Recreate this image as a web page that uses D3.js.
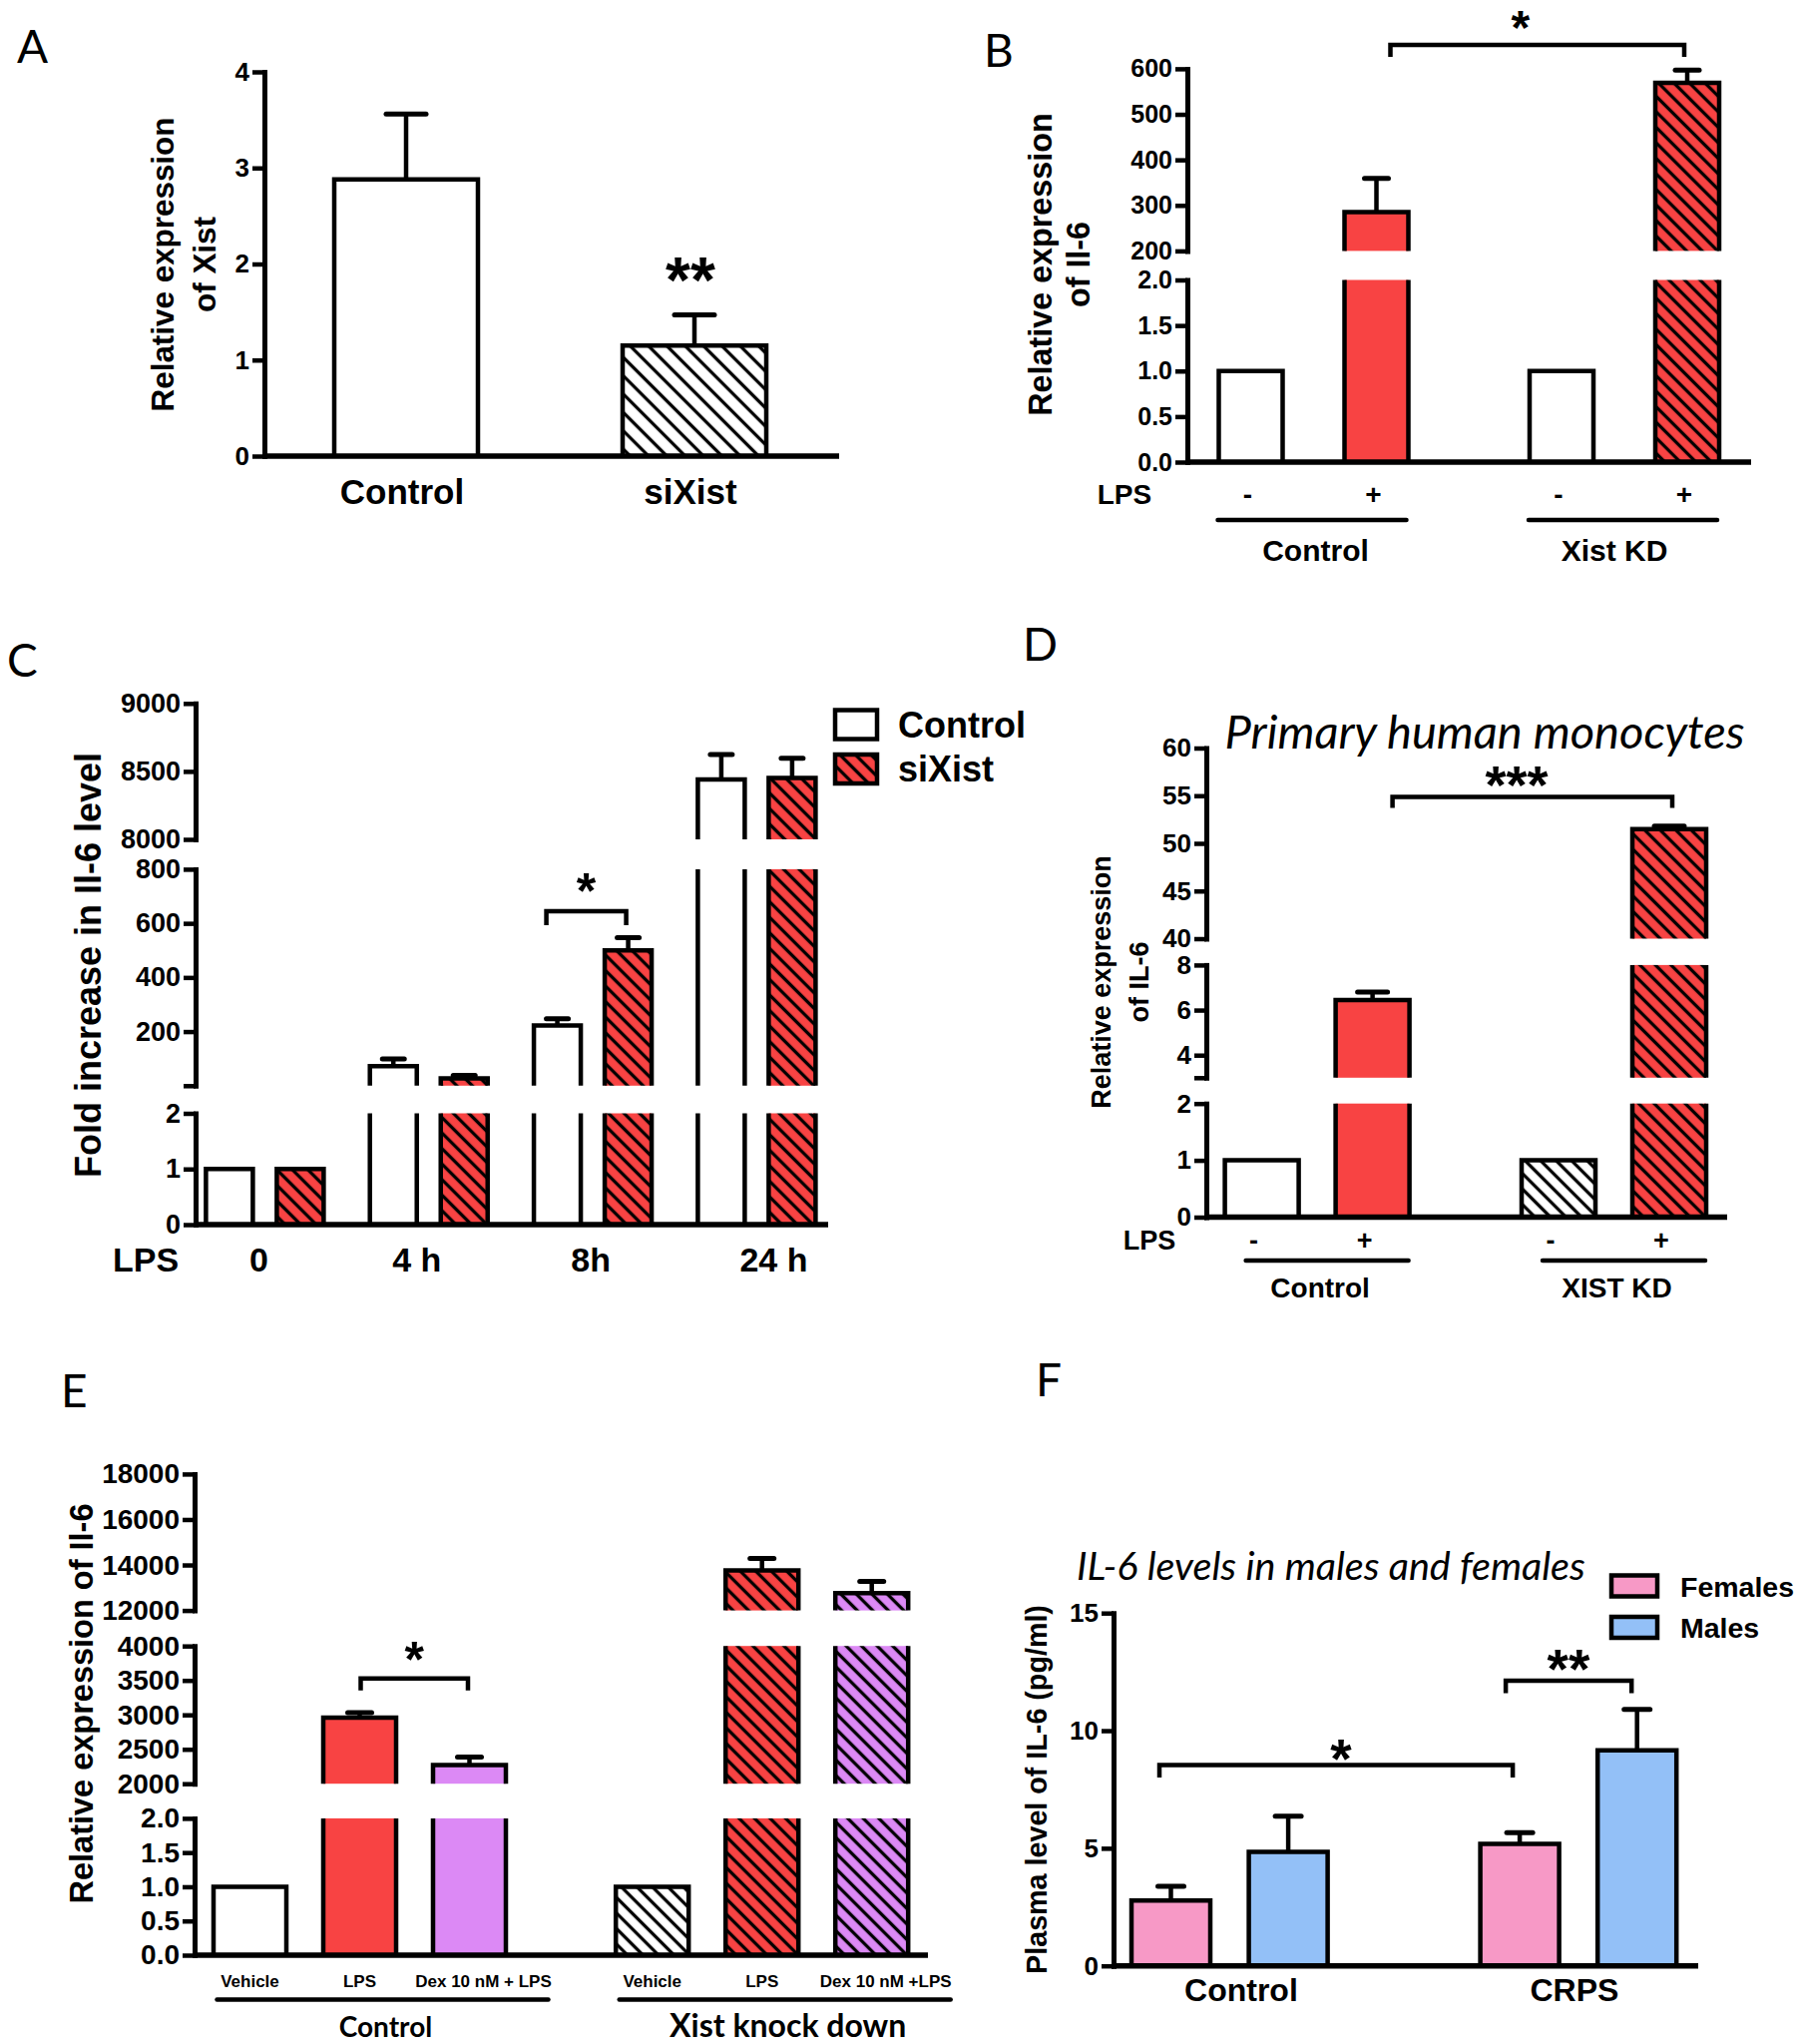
<!DOCTYPE html>
<html><head><meta charset="utf-8">
<script src="https://cdn.jsdelivr.net/npm/d3@7"></script>
<style>body{margin:0;background:#fff}</style>
</head><body>
<script>
// ================= DATA =================
// Panel A
const aCategories = ["Control", "siXist"];
const aValues = [2.88, 1.15];
const aErrors = [0.68, 0.32];
const aTicks = [0, 1, 2, 3, 4];

// Panel B
const bGroups = ["Control", "Xist KD"];
const bLPS = ["-", "+"];
const bValues = [[1, 285], [1, 569]];
const bErrors = [[0, 74], [0, 28]];
const bTicksLow = [0, 0.5, 1, 1.5, 2];
const bTicksHigh = [200, 300, 400, 500, 600];

// Panel C
const cTimes = ["0", "4 h", "8h", "24 h"];
const cSeries = ["Control", "siXist"];
const cControl = [1, 72, 222, 8440];
const cControlErr = [0, 27, 25, 185];
const cSiXist = [1, 27, 500, 8452];
const cSiXistErr = [0, 11, 47, 145];
const cTicksLow = [0, 1, 2];
const cTicksMid = [0, 200, 400, 600, 800];
const cTicksHigh = [8000, 8500, 9000];

// Panel D
const dGroups = ["Control", "XIST KD"];
const dLPS = ["-", "+"];
const dValues = [[1, 6.45], [1, 51.5]];
const dErrors = [[0, 0.35], [0, 0.3]];
const dTicksLow = [0, 1, 2];
const dTicksMid = [3, 4, 6, 8];
const dTicksHigh = [40, 45, 50, 55, 60];

// Panel E
const eGroups = ["Control", "Xist knock down"];
const eTreatments = [["Vehicle", "LPS", "Dex 10 nM + LPS"], ["Vehicle", "LPS", "Dex 10 nM +LPS"]];
const eValues = [[1, 2961, 2271], [1, 13760, 12764]];
const eErrors = [[0, 71, 116], [0, 527, 509]];
const eTicksLow = [0, 0.5, 1, 1.5, 2];
const eTicksMid = [2000, 2500, 3000, 3500, 4000];
const eTicksHigh = [12000, 14000, 16000, 18000];

// Panel F
const fGroups = ["Control", "CRPS"];
const fSexes = ["Females", "Males"];
const fFemales = [2.78, 5.18];
const fFemalesErr = [0.6, 0.48];
const fMales = [4.85, 9.16];
const fMalesErr = [1.51, 1.74];
const fTicks = [0, 5, 10, 15];

// ================= STYLE / HELPERS =================
const ARIAL = "'Liberation Sans', Arial, Helvetica, sans-serif";
const CAL = "Lato, 'Open Sans', sans-serif";
const COL = {white: "#ffffff", red: "#f84343", violet: "#dc89f5", pink: "#f799c6", blue: "#93c0f7"};

const svg = d3.select("body").append("svg").attr("width", 1800).attr("height", 2048).style("background", "#fff");
const defs = svg.append("defs");
function hatch(id, color, sp) {
  const p = defs.append("pattern").attr("id", id).attr("patternUnits", "userSpaceOnUse")
    .attr("width", sp).attr("height", sp).attr("patternTransform", "rotate(45)");
  p.append("rect").attr("width", sp).attr("height", sp).attr("fill", color);
  p.append("line").attr("x1", -1).attr("x2", sp + 1).attr("y1", sp / 2).attr("y2", sp / 2)
    .attr("stroke", "#000").attr("stroke-width", 3.3);
}
hatch("h-white", COL.white, 11); hatch("h-red", COL.red, 11); hatch("h-violet", COL.violet, 11);
hatch("h-whiteA", COL.white, 13);
function fillOf(k) { return k[0] === "h" ? `url(#h-${k.slice(1)})` : COL[k]; }

function segs(list) { return list.map(s => Object.assign({}, s, {scale: d3.scaleLinear().domain(s.domain).range(s.range)})); }

function yAxis(g, x, S, fs, fmt) {
  S.forEach(s => {
    const ax = d3.axisLeft(s.scale).tickValues(s.ticks).tickSize(12).tickSizeOuter(0).tickPadding(3)
      .tickFormat(s.fmt || fmt);
    const a = g.append("g").attr("transform", `translate(${x},0)`).call(ax);
    a.select(".domain").attr("stroke", "#000").attr("stroke-width", 5).attr("stroke-linecap", "square");
    a.selectAll(".tick line").attr("stroke", "#000").attr("stroke-width", 4.5);
    a.selectAll(".tick text").attr("fill", "#000").style("font-family", ARIAL)
      .style("font-weight", "bold").style("font-size", fs + "px");
  });
}
function xLine(g, x0, x1, y) {
  g.append("line").attr("x1", x0).attr("x2", x1).attr("y1", y).attr("y2", y)
    .attr("stroke", "#000").attr("stroke-width", 5.5);
}
function bars(g, list, S, capW) {
  list.forEach(b => {
    const xl = b.cx - b.w / 2, xr = b.cx + b.w / 2;
    S.forEach((s, k) => {
      if (!(b.v > s.domain[0] && (k === 0 || b.v > S[k - 1].domain[1]))) return;
      const y0 = s.scale(s.domain[0]), top = Math.min(b.v, s.domain[1]), y1 = s.scale(top);
      g.append("rect").attr("x", xl).attr("y", y1).attr("width", b.w).attr("height", y0 - y1).attr("fill", fillOf(b.fill));
      const closed = b.v <= s.domain[1];
      g.append("path").attr("d", closed ? `M${xl},${y0}V${y1}H${xr}V${y0}` : `M${xl},${y0}V${y1}M${xr},${y1}V${y0}`)
        .attr("fill", "none").attr("stroke", "#000").attr("stroke-width", 4.5);
    });
    if (b.e > 0) {
      const t = b.v + b.e;
      const s = S.find(s => t >= s.domain[0] && t <= s.domain[1] + 1e-9) || S[S.length - 1];
      const ya = s.scale(b.v), yb = s.scale(t);
      g.append("line").attr("x1", b.cx).attr("x2", b.cx).attr("y1", ya).attr("y2", yb)
        .attr("stroke", "#000").attr("stroke-width", 4.5);
      g.append("line").attr("x1", b.cx - capW / 2).attr("x2", b.cx + capW / 2).attr("y1", yb).attr("y2", yb)
        .attr("stroke", "#000").attr("stroke-width", 5).attr("stroke-linecap", "round");
    }
  });
}
function txt(g, x, y, s, fs, opt = {}) {
  return g.append("text").attr("x", x).attr("y", y).text(s)
    .attr("text-anchor", opt.anchor || "middle")
    .style("font-family", opt.family || ARIAL)
    .style("font-weight", opt.weight || "bold")
    .style("font-style", opt.style || "normal")
    .style("font-size", fs + "px").attr("fill", "#000");
}
function stars(g, cx, cy, s, fs) { txt(g, cx, cy + 0.48 * fs, s, fs); }
function bracket(g, x1, x2, y, drop) {
  g.append("path").attr("d", `M${x1},${y + drop}V${y}H${x2}V${y + drop}`)
    .attr("fill", "none").attr("stroke", "#000").attr("stroke-width", 4.5);
}
function hline(g, x1, x2, y) {
  g.append("line").attr("x1", x1).attr("x2", x2).attr("y1", y).attr("y2", y)
    .attr("stroke", "#000").attr("stroke-width", 4.5).attr("stroke-linecap", "round");
}
function yTitle(g, lines, baselines, cy, fs) {
  lines.forEach((l, i) => {
    txt(g, baselines[i], cy, l, fs).attr("transform", `rotate(-90,${baselines[i]},${cy})`);
  });
}
function letter(g, x, y, s) { txt(g, x, y, s, 46, {anchor: "start", family: CAL, weight: "400"}); }

// ================= PANEL A =================
{
  const g = svg.append("g");
  const S = segs([{domain: [0, 4], range: [457, 72], ticks: aTicks}]);
  const x = d3.scalePoint().domain(aCategories).range([407, 696]);
  const fills = ["white", "hwhiteA"];
  bars(g, aCategories.map((c, i) => ({cx: x(c), w: 144, v: aValues[i], e: aErrors[i], fill: fills[i]})), S, 40);
  yAxis(g, 265, S, 26, d3.format("d"));
  xLine(g, 263, 841, S[0].scale(0));
  aCategories.forEach(c => txt(g, x(c) - 4, 505, c, 35));
  stars(g, x("siXist") - 4, 272, "**", 64);
  yTitle(g, ["Relative expression", "of Xist"], [174, 216], 265, 31.4);
  letter(g, 17, 63, "A");
}

// ================= PANEL B =================
{
  const g = svg.append("g");
  const S = segs([
    {domain: [0, 2], range: [463, 280.5], ticks: bTicksLow, fmt: d3.format(".1f")},
    {domain: [200, 600], range: [251.4, 68.9], ticks: bTicksHigh, fmt: d3.format("d")}]);
  const gx = d3.scalePoint().domain(bGroups).range([1316.5, 1628]);
  const sx = d3.scalePoint().domain(bLPS).range([-63, 63]);
  const fills = [["white", "red"], ["white", "hred"]];
  const list = [];
  bGroups.forEach((gr, i) => bLPS.forEach((l, j) =>
    list.push({cx: gx(gr) + sx(l), w: 64, v: bValues[i][j], e: bErrors[i][j], fill: fills[i][j]})));
  bars(g, list, S, 24);
  yAxis(g, 1190, S, 25);
  xLine(g, 1188, 1755, S[0].scale(0));
  const x1 = gx("Control") + sx("+") + 14, x2 = gx("Xist KD") + sx("+") - 3;
  bracket(g, x1, x2, 45, 12);
  stars(g, (x1 + x2) / 2 - 17, 21, "*", 48);
  txt(g, 1127, 505, "LPS", 28);
  bGroups.forEach((gr, i) => {
    bLPS.forEach(l => txt(g, gx(gr) + sx(l) - 3, 505, l, 28));
    hline(g, gx(gr) + sx("-") - 33, gx(gr) + sx("+") + 30, 521);
    txt(g, gx(gr) + [2, -10][i], 562, gr, 30);
  });
  yTitle(g, ["Relative expression", "of Il-6"], [1054, 1092], 265, 32.3);
  letter(g, 986, 67, "B");
}

// ================= PANEL C =================
{
  const g = svg.append("g");
  const S = segs([
    {domain: [0, 2], range: [1227, 1115.5], ticks: cTicksLow},
    {domain: [0, 800], range: [1087.8, 870.9], ticks: cTicksMid, fmt: d => d === 0 ? "" : d},
    {domain: [8000, 9000], range: [841, 704.8], ticks: cTicksHigh}]);
  const gx = d3.scalePoint().domain(cTimes).range([265.4, 758.4]);
  const sx = d3.scalePoint().domain(cSeries).range([-35.5, 35.5]);
  const list = [];
  cTimes.forEach((t, i) => {
    list.push({cx: gx(t) + sx("Control"), w: 47, v: cControl[i], e: cControlErr[i], fill: "white"});
    list.push({cx: gx(t) + sx("siXist"), w: 47, v: cSiXist[i], e: cSiXistErr[i], fill: "hred"});
  });
  bars(g, list, S, 22);
  yAxis(g, 196, S, 27, d3.format("d"));
  xLine(g, 194, 830, S[0].scale(0));
  const x1 = gx("8h") + sx("Control") - 11, x2 = gx("8h") + sx("siXist") - 2;
  bracket(g, x1, x2, 913, 14);
  stars(g, (x1 + x2) / 2, 886, "*", 50);
  const labelDx = [-6, -12, -2, 17];
  cTimes.forEach((t, i) => txt(g, gx(t) + labelDx[i], 1274, t, 34));
  txt(g, 146, 1274, "LPS", 34);
  // legend
  const legFill = ["white", "hred"];
  cSeries.forEach((s, i) => {
    const cy = [726, 770.5][i];
    g.append("rect").attr("x", 837).attr("y", cy - 14.5).attr("width", 42).attr("height", 29)
      .attr("fill", fillOf(legFill[i])).attr("stroke", "#000").attr("stroke-width", 4.5);
    txt(g, 900, cy + 12.5, s, 36, {anchor: "start"});
  });
  yTitle(g, ["Fold increase in Il-6 level"], [101], 967, 36);
  letter(g, 7, 678, "C");
}

// ================= PANEL D =================
{
  const g = svg.append("g");
  const S = segs([
    {domain: [0, 2], range: [1219.5, 1105.7], ticks: dTicksLow},
    {domain: [3, 8], range: [1079.8, 966.9], ticks: dTicksMid, fmt: d => d === 3 ? "" : d},
    {domain: [40, 60], range: [940.5, 749.5], ticks: dTicksHigh}]);
  const gx = d3.scalePoint().domain(dGroups).range([1320.1, 1617.5]);
  const sx = d3.scalePoint().domain(dLPS).range([-55.5, 55.5]);
  const fills = [["white", "red"], ["hwhite", "hred"]];
  const list = [];
  dGroups.forEach((gr, i) => dLPS.forEach((l, j) =>
    list.push({cx: gx(gr) + sx(l), w: 74, v: dValues[i][j], e: dErrors[i][j], fill: fills[i][j]})));
  bars(g, list, S, 30);
  yAxis(g, 1209, S, 26, d3.format("d"));
  xLine(g, 1207, 1731, S[0].scale(0));
  txt(g, 1488, 750, "Primary human monocytes", 47, {family: CAL, weight: "400", style: "italic"});
  const x1 = gx("Control") + sx("+") + 20, x2 = gx("XIST KD") + sx("+") + 3;
  bracket(g, x1, x2, 798.6, 11);
  stars(g, 1520, 779, "***", 54);
  txt(g, 1152, 1252, "LPS", 27);
  dGroups.forEach(gr => {
    dLPS.forEach(l => txt(g, gx(gr) + sx(l) - 8, 1252, l, 27));
    hline(g, gx(gr) + sx("-") - 16, gx(gr) + sx("+") + 36, 1263);
    txt(g, gx(gr) + 3, 1300, gr, 28);
  });
  yTitle(g, ["Relative expression", "of IL-6"], [1113, 1150.5], 984, 27);
  letter(g, 1025, 662, "D");
}

// ================= PANEL E =================
{
  const g = svg.append("g");
  const S = segs([
    {domain: [0, 2], range: [1959, 1821.9], ticks: eTicksLow, fmt: d3.format(".1f")},
    {domain: [2000, 4000], range: [1787.2, 1649.2], ticks: eTicksMid},
    {domain: [12000, 18000], range: [1613.6, 1476.9], ticks: eTicksHigh}]);
  const gx = d3.scalePoint().domain(eGroups).range([360.5, 763.7]);
  const sx = d3.scalePoint().domain([0, 1, 2]).range([-110, 110]);
  const fills = [["white", "red", "violet"], ["hwhite", "hred", "hviolet"]];
  const list = [];
  eGroups.forEach((gr, i) => [0, 1, 2].forEach(j =>
    list.push({cx: gx(gr) + sx(j), w: 73, v: eValues[i][j], e: eErrors[i][j], fill: fills[i][j]})));
  bars(g, list, S, 24);
  yAxis(g, 195, S, 28, d3.format("d"));
  xLine(g, 193, 930, S[0].scale(0));
  const x1 = gx("Control") + sx(1) + 1, x2 = gx("Control") + sx(2) - 1.5;
  bracket(g, x1, x2, 1681.7, 12);
  stars(g, (x1 + x2) / 2, 1656, "*", 50);
  eGroups.forEach((gr, i) => {
    [0, 1, 2].forEach(j => txt(g, gx(gr) + sx(j) + (j === 2 ? 14 : 0), 1991, eTreatments[i][j], 17));
    hline(g, gx(gr) - 143, gx(gr) + 189, 2003.5);
    txt(g, gx(gr) + 26, 2041, gr, [28, 32][i], {family: CAL, weight: "700"});
  });
  yTitle(g, ["Relative expression of Il-6"], [93], 1707, 32.5);
  letter(g, 61, 1410, "E");
}

// ================= PANEL F =================
{
  const g = svg.append("g");
  const S = segs([{domain: [0, 15], range: [1969.7, 1616.2], ticks: fTicks}]);
  const gx = d3.scalePoint().domain(fGroups).range([1232.3, 1581.9]);
  const sx = d3.scalePoint().domain(fSexes).range([-58.8, 58.8]);
  const list = [];
  fGroups.forEach((gr, i) => {
    list.push({cx: gx(gr) + sx("Females"), w: 79, v: fFemales[i], e: fFemalesErr[i], fill: "pink"});
    list.push({cx: gx(gr) + sx("Males"), w: 79, v: fMales[i], e: fMalesErr[i], fill: "blue"});
  });
  bars(g, list, S, 26);
  yAxis(g, 1116, S, 26, d3.format("d"));
  xLine(g, 1114, 1702, S[0].scale(0));
  let x1 = gx("Control") + sx("Females") - 11.5, x2 = gx("CRPS") + sx("Females") - 7;
  bracket(g, x1, x2, 1768.5, 12.5);
  stars(g, 1344, 1755, "*", 55);
  x1 = gx("CRPS") + sx("Females") - 14; x2 = gx("CRPS") + sx("Males") - 5.5;
  bracket(g, x1, x2, 1684, 12.4);
  stars(g, 1572, 1665, "**", 55);
  const fLabelDx = [11.6, -4];
  fGroups.forEach((gr, i) => txt(g, gx(gr) + fLabelDx[i], 2005, gr, 32));
  txt(g, 1079, 1583, "IL-6 levels in males and females", 39.5, {anchor: "start", family: CAL, weight: "400", style: "italic"});
  const legFill = ["pink", "blue"];
  fSexes.forEach((s, i) => {
    const cy = [1589, 1630.5][i];
    g.append("rect").attr("x", 1615).attr("y", cy - 10.5).attr("width", 46).attr("height", 21)
      .attr("fill", fillOf(legFill[i])).attr("stroke", "#000").attr("stroke-width", 4.5);
    txt(g, 1684, cy + 10.5, s, 28.5, {anchor: "start"});
  });
  yTitle(g, ["Plasma level of IL-6 (pg/ml)"], [1048.5], 1793, 28.7);
  letter(g, 1038, 1399, "F");
}
</script>
</body></html>
